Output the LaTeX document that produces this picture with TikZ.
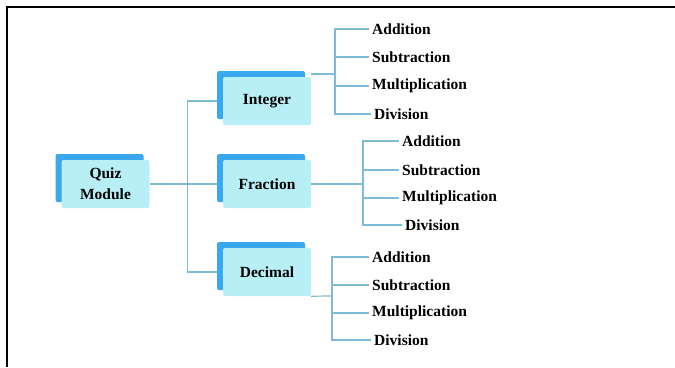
\documentclass[tikz,border=0pt]{standalone}
\usepackage{fontspec}
\setmainfont{Liberation Serif}
\usetikzlibrary{shadows,backgrounds}
\definecolor{tabblue}{HTML}{3AA8EC}
\definecolor{boxcyan}{HTML}{B8EFF7}
\definecolor{linkblue}{HTML}{7DBBD6}

\begin{document}
\begin{tikzpicture}[x=1pt, y=-1pt,
        box/.style = {fill=boxcyan, rounded corners=2pt, minimum width=88pt, minimum height=48pt, align=center,
            font=\fontsize{15.5}{21}\selectfont\bfseries,
            copy shadow={shadow xshift=-6pt, shadow yshift=6pt, fill=tabblue, draw=none}},
        leaf/.style = {anchor=west, inner xsep=3pt, inner ysep=0pt, font=\fontsize{15.5}{18}\selectfont\bfseries},
        link/.style = {draw=linkblue, line width=1.2pt}]
        \useasboundingbox (0,0) rectangle (675,367);
        \draw[line width=1.2pt] (675,7) -- (7,7) -- (7,367);

        \node[box] (quiz) at (105.5,184) {Quiz\\Module};
        \node[box] (integer) at (267,101) {Integer};
        \node[box] (fraction) at (267,184) {Fraction};
        \node[box] (decimal) at (267,272) {Decimal};

        % integer
        \node[leaf] (int-add) at (369,29) {Addition};
        \node[leaf] (int-sub) at (369,57) {Subtraction};
        \node[leaf] (int-mul) at (369,86) {Multiplication};
        \node[leaf] (int-div) at (371,114) {Division};
        % fraction
        \node[leaf] (fra-add) at (399,141) {Addition};
        \node[leaf] (fra-sub) at (399,170) {Subtraction};
        \node[leaf] (fra-mul) at (399,198) {Multiplication};
        \node[leaf] (fra-div) at (402,225) {Division};
        % decimal
        \node[leaf] (dec-add) at (369,257) {Addition};
        \node[leaf] (dec-sub) at (369,285) {Subtraction};
        \node[leaf] (dec-mul) at (369,313) {Multiplication};
        \node[leaf] (dec-div) at (371,340) {Division};

        \coordinate (int-v) at (335,74);
        \coordinate (fra-v) at (363,184);
        \coordinate (dec-v) at (332,296);

        \begin{scope}[on background layer]
            \draw[link] (quiz.east) -- (fraction.west);
            \draw[link] (integer.west) -- ++(-35,0) |- (decimal.west);

            \draw[link] (integer.north east |- int-v) -- (int-v);
            \draw[link] (int-add.west) -| (int-v) |- (int-div.west);
            \draw[link] (int-v |- int-sub.west) -- (int-sub.west);
            \draw[link] (int-v |- int-mul.west) -- (int-mul.west);

            \draw[link] (fraction.east) -- (fra-v);
            \draw[link] (fra-add.west) -| (fra-v) |- (fra-div.west);
            \draw[link] (fra-v |- fra-sub.west) -- (fra-sub.west);
            \draw[link] (fra-v |- fra-mul.west) -- (fra-mul.west);

            \draw[link] (decimal.south east) -- (dec-v);
            \draw[link] (dec-add.west) -| (dec-v) |- (dec-div.west);
            \draw[link] (dec-v |- dec-sub.west) -- (dec-sub.west);
            \draw[link] (dec-v |- dec-mul.west) -- (dec-mul.west);
        \end{scope}
\end{tikzpicture}
\end{document}
